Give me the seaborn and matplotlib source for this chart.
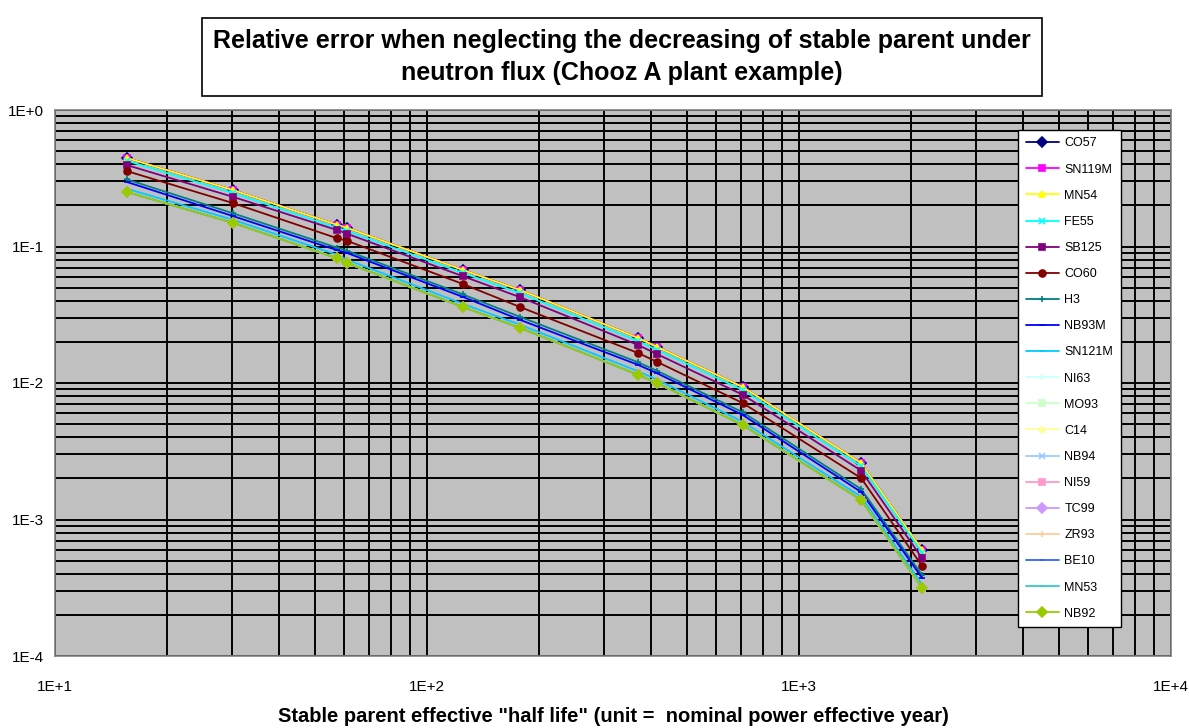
import numpy as np
import pandas as pd
import matplotlib
matplotlib.use("Agg")
import matplotlib.pyplot as plt
import seaborn as sns
from matplotlib.ticker import LogLocator, FuncFormatter, NullFormatter

sns.set_style("white")
plt.rcParams["font.family"] = ["Liberation Sans", "DejaVu Sans"]
plt.rcParams["text.color"] = "black"
plt.rcParams["axes.labelcolor"] = "black"
plt.rcParams["xtick.color"] = "black"
plt.rcParams["ytick.color"] = "black"

# stable parent effective half life (x)
half_life = [15.6, 30.1, 57.3, 61.0, 125, 178, 369, 415, 706, 1469, 2143]

# relative error levels (several nuclides share a level)
err_top = [0.445, 0.259, 0.144, 0.137, 0.0673, 0.048, 0.0214, 0.0184, 0.00935, 0.00259, 0.000598]
err_fe55 = [0.425, 0.247, 0.137, 0.130, 0.064, 0.0455, 0.0203, 0.0175, 0.0089, 0.00246, 0.00057]
err_sb125 = [0.395, 0.231, 0.132, 0.124, 0.0605, 0.0425, 0.0190, 0.0163, 0.0082, 0.00228, 0.00052]
err_co60 = [0.357, 0.208, 0.115, 0.110, 0.0531, 0.036, 0.0166, 0.0143, 0.00713, 0.00201, 0.000456]
err_h3 = [0.310, 0.175, 0.098, 0.093, 0.0445, 0.0305, 0.0142, 0.0123, 0.0061, 0.00167, 0.00039]
err_nb93m = [0.297, 0.167, 0.094, 0.0896, 0.0427, 0.029, 0.0136, 0.0118, 0.00583, 0.00159, 0.000373]
err_sn121m = [0.265, 0.157, 0.087, 0.080, 0.038, 0.0267, 0.0122, 0.0106, 0.0052, 0.00147, 0.000333]
err_long = [0.251, 0.149, 0.082, 0.0757, 0.036, 0.0253, 0.0115, 0.0100, 0.00492, 0.00139, 0.000315]

nuclides = ["CO57", "SN119M", "MN54", "FE55", "SB125", "CO60", "H3", "NB93M", "SN121M",
            "NI63", "MO93", "C14", "NB94", "NI59", "TC99", "ZR93", "BE10", "MN53", "NB92"]
levels = [err_top, err_top, err_top, err_fe55, err_sb125, err_co60, err_h3, err_nb93m, err_sn121m,
          err_long, err_long, err_long, err_long, err_long, err_long, err_long, err_long, err_long, err_long]

colors = ["#000080", "#FF00FF", "#FFFF00", "#00FFFF", "#800080", "#800000", "#008080", "#0000FF",
          "#00CCFF", "#CCFFFF", "#CCFFCC", "#FFFF99", "#99CCFF", "#FF99CC", "#CC99FF", "#FFCC99",
          "#3366FF", "#33CCCC", "#99CC00"]
markers = ["D", "s", "^", "x", "s", "o", "+", "_", "_",
           "+", "s", "^", "x", "s", "D", "+", "_", "_", "D"]

fig = plt.figure(figsize=(11.89, 7.28), dpi=100)
ax = fig.add_axes([55 / 1189, 72 / 728, 1116 / 1189, 546 / 728])
ax.set_facecolor("#C0C0C0")

for name, vals, c, m in zip(nuclides, levels, colors, markers):
    df = pd.DataFrame({"x": half_life, "y": vals})
    sns.lineplot(data=df, x="x", y="y", ax=ax, color=c, marker=m, markersize=5,
                 mec=c, mfc=c, mew=1.2, linewidth=1.3, label=name)

ax.set_xscale("log")
ax.set_yscale("log")
ax.set_xlim(10, 1e4)
ax.set_ylim(1e-4, 1)

ax.xaxis.set_major_locator(LogLocator(base=10))
ax.yaxis.set_major_locator(LogLocator(base=10))
ax.xaxis.set_minor_locator(LogLocator(base=10, subs=np.arange(2, 10)))
ax.yaxis.set_minor_locator(LogLocator(base=10, subs=np.arange(2, 10)))
ax.xaxis.set_minor_formatter(NullFormatter())
ax.yaxis.set_minor_formatter(NullFormatter())
fmt = FuncFormatter(lambda v, p: "1E%+d" % int(round(np.log10(v))))
ax.xaxis.set_major_formatter(fmt)
ax.yaxis.set_major_formatter(fmt)

ax.grid(True, which="both", color="black", linewidth=1.4)
ax.set_axisbelow(True)
ax.tick_params(axis="both", which="major", direction="out", length=5, width=1,
               color="#404040", labelcolor="black", labelsize=11, pad=3)
ax.tick_params(axis="x", which="major", pad=12)
ax.tick_params(axis="both", which="minor", length=0)
for s in ax.spines.values():
    s.set_color("#808080")
    s.set_linewidth(1.2)

ax.set_xlabel('Stable parent effective "half life" (unit =  nominal power effective year)',
              fontsize=14.5, fontweight="bold", labelpad=10, color="black")
ax.set_ylabel("")

leg = ax.legend(loc="upper left", bbox_to_anchor=(1018 / 1189, 1 - 130 / 728),
                bbox_transform=fig.transFigure, borderaxespad=0, fontsize=9,
                frameon=True, fancybox=False, framealpha=1, edgecolor="black",
                labelspacing=1.13, handlelength=2.7, handletextpad=0.4, borderpad=0.6)
leg.get_frame().set_linewidth(1.0)
for t in leg.get_texts():
    t.set_color("black")

fig.text(0.523, 0.922,
         "Relative error when neglecting the decreasing of stable parent under\n"
         "neutron flux (Chooz A plant example)",
         ha="center", va="center", fontsize=18, fontweight="bold", linespacing=1.4,
         color="black",
         bbox=dict(boxstyle="square,pad=0.45", facecolor="white", edgecolor="black", linewidth=1.2))

fig.savefig("out.png", dpi=100)
